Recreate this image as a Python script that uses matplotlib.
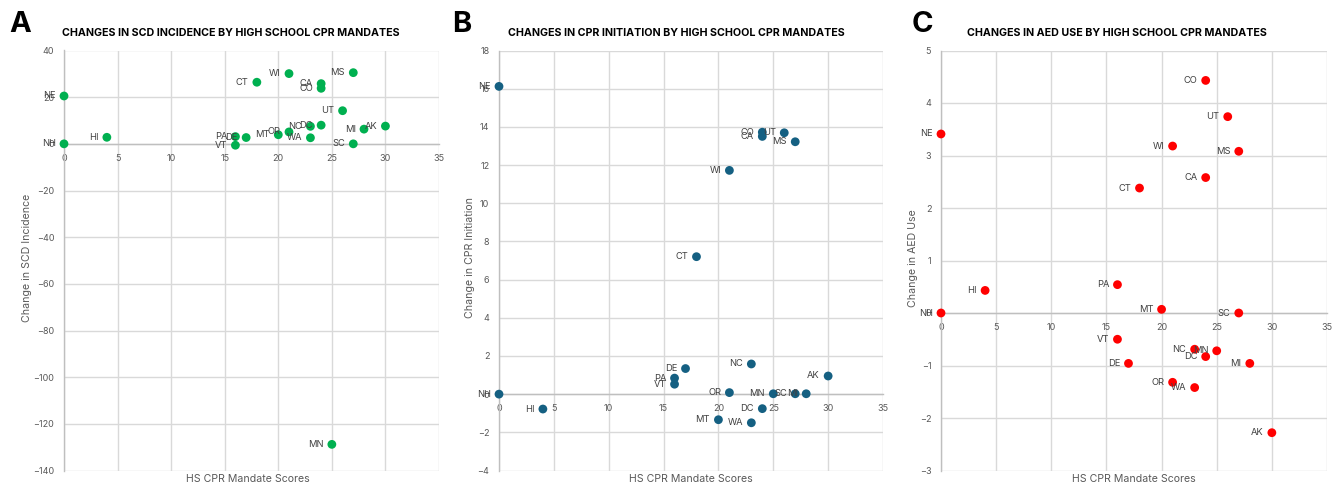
import matplotlib
matplotlib.use("Agg")
import matplotlib.pyplot as plt

plt.rcParams['font.family'] = ['Inter', 'DejaVu Sans']

# ---------------- data ----------------
states = ["NE", "NH", "HI", "PA", "VT", "DE", "CT", "MT", "OR", "WI", "NC",
          "WA", "CA", "CO", "DC", "MN", "UT", "MS", "SC", "MI", "AK"]
scores = [0, 0, 4, 16, 16, 17, 18, 20, 21, 21, 23,
          23, 24, 24, 24, 25, 26, 27, 27, 28, 30]
scd_change = [20.5, 0.0, 2.8, 3.1, -0.6, 2.7, 26.4, 3.9, 5.1, 30.1, 7.5,
              2.6, 25.8, 23.8, 8.0, -128.8, 14.2, 30.5, 0.0, 6.3, 7.6]
cpr_change = [16.12, 0.0, -0.78, 0.84, 0.52, 1.34, 7.2, -1.34, 0.08, 11.72, 1.58,
              -1.5, 13.5, 13.72, -0.76, 0.02, 13.69, 13.22, 0.02, 0.02, 0.95]
aed_change = [3.41, 0.0, 0.43, 0.54, -0.50, -0.96, 2.38, 0.07, -1.32, 3.18, -0.69,
              -1.42, 2.58, 4.43, -0.83, -0.72, 3.74, 3.08, 0.0, -0.96, -2.28]

panel_letters = ["A", "B", "C"]
titles = ["CHANGES IN SCD INCIDENCE BY HIGH SCHOOL CPR MANDATES",
          "CHANGES IN CPR INITIATION BY HIGH SCHOOL CPR MANDATES",
          "CHANGES IN AED USE BY HIGH SCHOOL CPR MANDATES"]
y_titles = ["Change in SCD Incidence", "Change in CPR Initiation", "Change in AED Use"]
x_title = "HS CPR Mandate Scores"
x_ticks = [0, 5, 10, 15, 20, 25, 30, 35]
y_ticks = [list(range(-140, 41, 20)), list(range(-4, 19, 2)), list(range(-3, 6, 1))]
values = [scd_change, cpr_change, aed_change]
colors = ["#00B050", "#156082", "#FF0000"]

# ---------------- layout (pixels) ----------------
W, H = 1341, 484
fig = plt.figure(figsize=(W / 100, H / 100), dpi=100)

def px_rect(l, r, t, b):
    return [l / W, 1 - b / H, (r - l) / W, (b - t) / H]

axes_px = [(64, 439, 50.5, 470.5), (499, 883, 50.5, 470.5), (941, 1327, 50.5, 470.5)]
letter_px = [(9, 25), (452, 25), (912, 25)]
title_cx = [231, 676, 1117]
ylab_x = [27, 470, 913]
xlab_cx = [248, 691, 1134]

grid_c = "#D9D9D9"
text_c = "#595959"
lab_c = "#404040"

for i in range(3):
    l, r, t, b = axes_px[i]
    ax = fig.add_axes(px_rect(l, r, t, b))
    yt = y_ticks[i]
    ax.set_xlim(0, 35)
    ax.set_ylim(yt[0], yt[-1])
    ax.set_xticks(x_ticks)
    ax.set_yticks(yt)
    ax.grid(True, color=grid_c, linewidth=1.0, zorder=0)
    ax.set_axisbelow(True)
    for s in ["top", "right"]:
        ax.spines[s].set_visible(False)
    ax.spines["bottom"].set_position(("data", 0))
    ax.spines["bottom"].set_color("#BFBFBF")
    ax.spines["left"].set_color("#BFBFBF")
    ax.spines["bottom"].set_linewidth(1.0)
    ax.spines["left"].set_linewidth(1.0)
    ax.tick_params(axis="both", length=0, labelsize=6.5, labelcolor=text_c, pad=7)

    ax.scatter(scores, values[i], s=40, color=colors[i], edgecolors="none", zorder=3,
               clip_on=False)
    for st, xv, yv in zip(states, scores, values[i]):
        ax.annotate(st, (xv, yv), xytext=(-6, 0), textcoords="offset points",
                    ha="right", va="center", fontsize=6.7, color=lab_c,
                    annotation_clip=False, zorder=4)

    # panel letter
    fig.text(letter_px[i][0] / W, 1 - letter_px[i][1] / H, panel_letters[i],
             fontsize=21, fontweight="bold", color="black", ha="left", va="center")
    # title
    fig.text(title_cx[i] / W, 1 - 33 / H, titles[i], fontsize=7.7, fontweight="bold",
             color="black", ha="center", va="center")
    # y title
    fig.text(ylab_x[i] / W, 1 - 258 / H, y_titles[i], fontsize=7.6, color=text_c,
             rotation=90, ha="center", va="center")
    # x title
    fig.text(xlab_cx[i] / W, 1 - 479 / H, x_title, fontsize=7.6, color=text_c,
             ha="center", va="center")

fig.savefig("out.png", dpi=100)
